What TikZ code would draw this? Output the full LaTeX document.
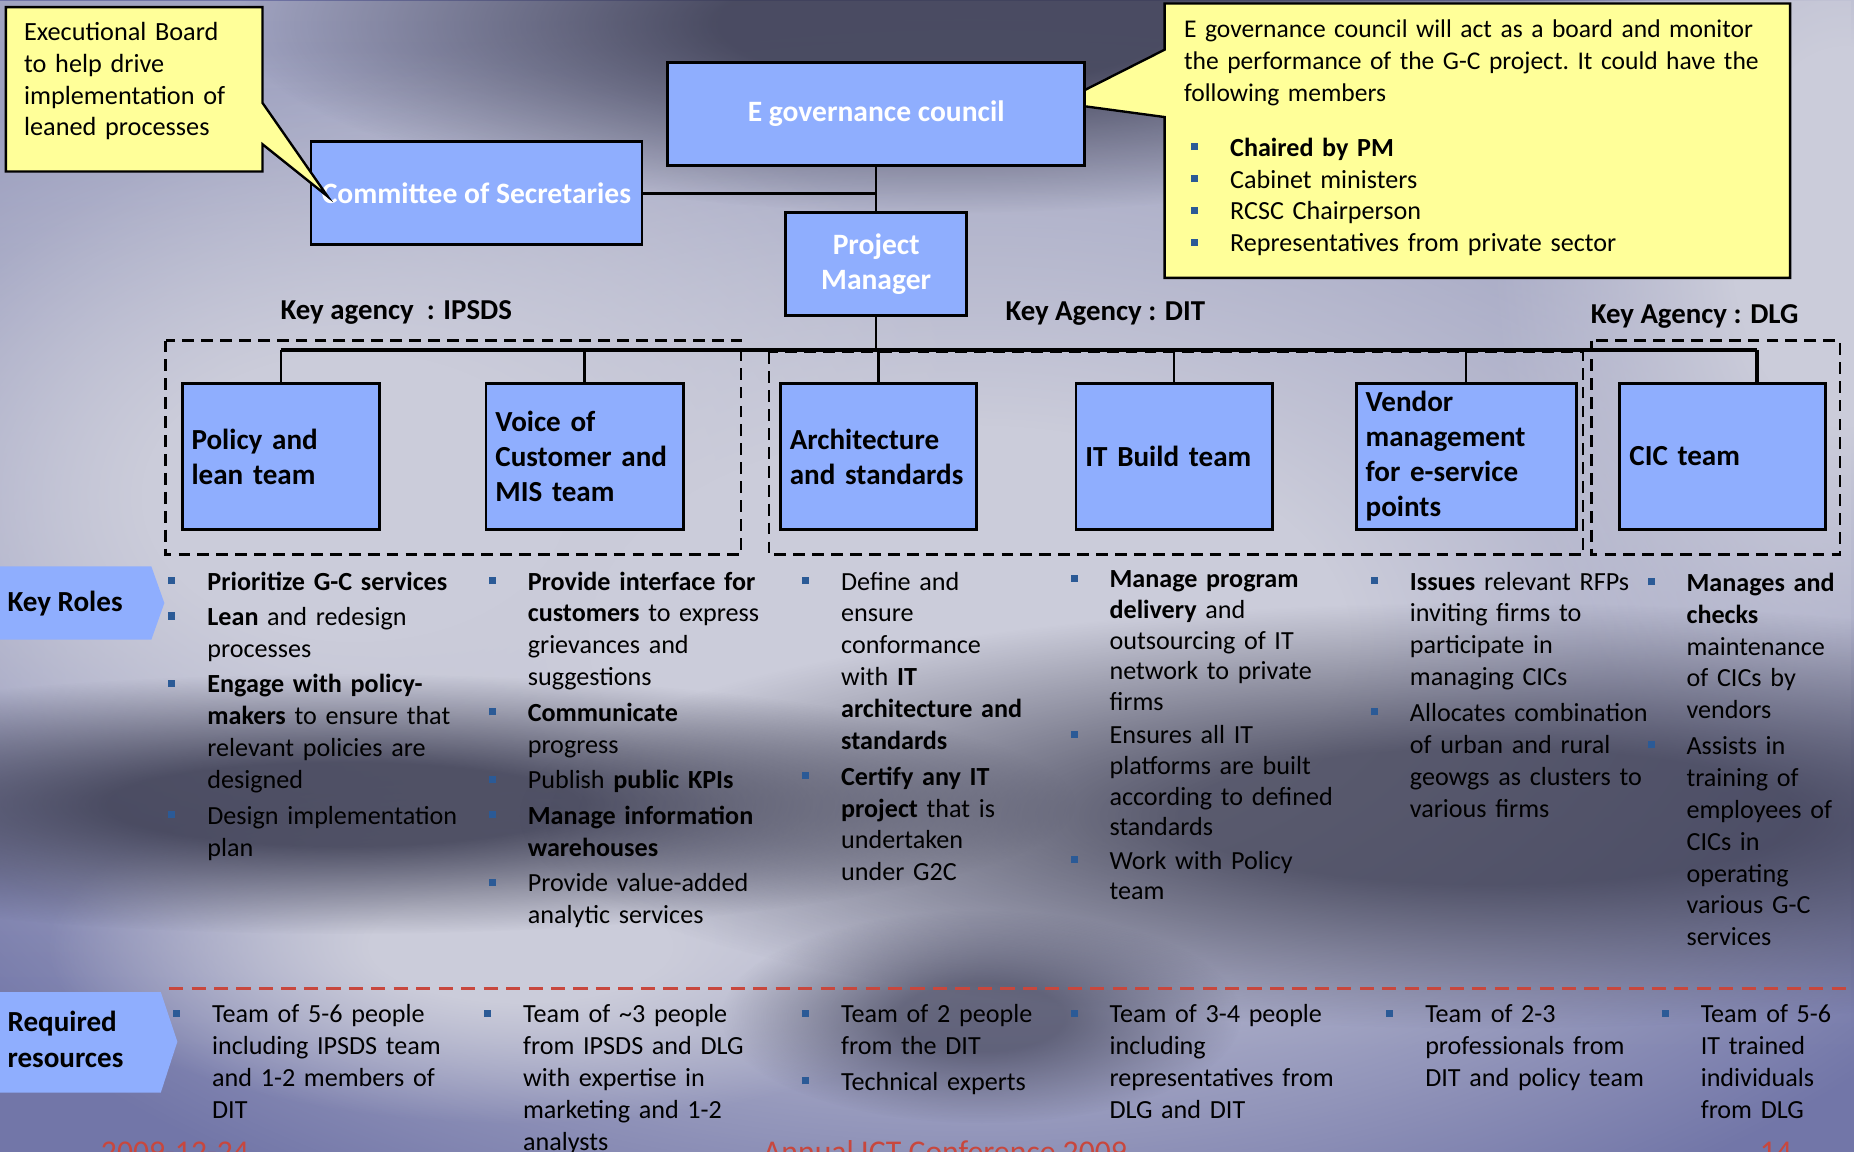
\documentclass[tikz,border=0pt]{standalone}
\usepackage{fontspec}
\setmainfont{Carlito}
\usetikzlibrary{calc,positioning,fadings}

\definecolor{unitblue}{HTML}{8FAEFE}
\definecolor{noteyellow}{HTML}{FFFF99}
\definecolor{bulletblue}{HTML}{2B5A96}
\definecolor{slidered}{HTML}{C8473D}
\definecolor{bgtop}{HTML}{A2A5C2}
\definecolor{bgbot}{HTML}{7276A8}
\definecolor{bglight}{HTML}{CBCCDA}
\definecolor{bgdark}{HTML}{34354A}

\tikzfading[name=fadedown, top color=transparent!0, bottom color=transparent!100]
\pgfdeclareradialshading{softblobshade}{\pgfpointorigin}{color(0bp)=(pgftransparent!0); color(8bp)=(pgftransparent!0); color(25bp)=(pgftransparent!100); color(50bp)=(pgftransparent!100)}
\pgfdeclarefading{softblob}{\pgfuseshading{softblobshade}}

% bullet list used in the role and resource columns
\newenvironment{rolelist}[1][1.5pt]{\raggedright\frenchspacing
  \begin{list}{\raisebox{2.5pt}{\color{bulletblue}\rule{3pt}{3pt}}}{%
    \setlength\leftmargin{16.5pt}\setlength\labelwidth{3pt}\setlength\labelsep{13.5pt}%
    \setlength\itemsep{#1}\setlength\parsep{0pt}\setlength\topsep{0pt}\setlength\partopsep{0pt}}}
  {\end{list}}

\begin{document}
\begin{tikzpicture}[x=0.5pt,y=-0.5pt,
  unit/.style={draw=black,line width=1.2pt,fill=unitblue,inner sep=0pt},
  head/.style={unit,text=white,align=center,minimum height=43.5pt,font=\fontsize{12.5}{15}\selectfont\bfseries},
  team/.style={unit,inner xsep=4pt,minimum height=62pt,align=left,font=\fontsize{12.3}{14.8}\selectfont\bfseries},
  note/.style={draw=black,line width=1pt,fill=noteyellow},
  notetext/.style={anchor=base west,inner sep=0pt,align=left,font=\fontsize{11.1}{13.5}\selectfont\frenchspacing},
  link/.style={line width=1.1pt},
  bus/.style={line width=1.7pt},
  agencyframe/.style={line width=0.9pt,dash pattern=on 5pt off 3pt},
  agency/.style={anchor=base west,inner sep=0pt,font=\fontsize{12.2}{14}\selectfont\bfseries},
  tab/.style={fill=unitblue},
  tablabel/.style={anchor=base west,inner sep=0pt,align=left,font=\fontsize{12.3}{15.5}\selectfont\bfseries},
  roles/.style={anchor=base west,inner sep=0pt,font=\fontsize{11.05}{13.5}\selectfont},
  footer/.style={anchor=base west,inner sep=0pt,text=slidered,font=\fontsize{13.4}{16}\selectfont},
  blob/.style={path fading=softblob}]
\useasboundingbox (0,0) rectangle (1568,974);
\clip (0,0) rectangle (1568,974);

% puzzle background
\fill[bgbot] (0,0) rectangle (1568,974);
\fill[bgtop,path fading=fadedown] (0,0) rectangle (1568,900);
\fill[bglight,blob] (820,540) ellipse (1000 and 560);
\fill[bglight,blob] (300,420) ellipse (560 and 380);
\fill[bglight,blob] (1560,200) ellipse (300 and 500);
\fill[bglight,blob] (440,800) ellipse (400 and 150);
\fill[bgdark,blob,opacity=.8] (800,20) ellipse (600 and 160);
\fill[bgdark,blob,opacity=.8] (290,680) ellipse (620 and 110);
\fill[bgdark,blob,opacity=.75] (1260,690) ellipse (820 and 180);
\fill[bgdark,blob,opacity=.6] (830,860) ellipse (220 and 90);

\draw[note] (985,3) -- (1514,3) -- (1514,235) -- (985,235) -- (985,99) -- (896,87) -- (985,42) -- cycle;

\node[head,minimum width=176.5pt] (egov) at (741,96.5) {E governance council};
\node[head,minimum width=140pt] (cos) at (403,163.5) {Committee of Secretaries};
\node[head,minimum width=76.5pt] (pm) at (741,223.5) {Project\\Manager};

\node[team,text width=75.5pt] (policy) at (237.5,386) {Policy~and\\lean~team};
\node[team,text width=75.5pt] (voice) at (494.5,386) {Voice~of\\Customer~and\\MIS~team};
\node[team,text width=75pt] (arch) at (743,386) {Architecture\\and~standards};
\node[team,text width=75pt] (itb) at (993,386) {IT~Build~team};
\node[team,text width=85pt] (vendor) at (1240,386) {Vendor\\management\\for~e-service\\points};
\node[team,text width=79pt] (cic) at (1457,386) {CIC~team};

\draw[note] (5,6) -- (222,6) -- (222,87) -- (277,166) -- (222,122) -- (222,145) -- (5,145) -- cycle;
\node[notetext,text width=100pt] (board) at (20,34) {Executional Board\\to help drive\\implementation of\\leaned processes};
\node[notetext,text width=255pt,font=\fontsize{10.8}{13.5}\selectfont\frenchspacing] (gcnote) at (1001,32) {E governance council will act as a board and monitor\\the performance of the G-C project. It could have the\\following members};
\node[roles,text width=200pt] (members) at (1007,105) {\begin{rolelist}[0pt]
  \item \textbf{Chaired by PM}
  \item Cabinet ministers
  \item RCSC Chairperson
  \item Representatives from private sector
\end{rolelist}};

% reporting lines
\coordinate (busL) at (237.5,296);
\coordinate (busR) at (1486,296);
\draw[link] (egov.south) -- (pm.north);
\draw[link] (cos.east) -- (cos.east -| egov.south);
\draw[link] (pm.south) -- (pm.south |- busL);
\draw[bus] (busL) -- (busR);
\foreach \t in {policy,voice,arch,itb,vendor}
  \draw[link] (\t.north |- busL) -- (\t.north);
\draw[bus] (busR) -- (busR |- cic.north);

\draw[agencyframe] (140,288) rectangle (627,469);
\draw[agencyframe] (650,298) rectangle (1339,469);
\draw[agencyframe] (1346,288) rectangle (1556,469);
\node[agency] (ipsds) at (237,270) {Key agency~~: IPSDS};
\node[agency] (dit) at (850,271) {Key Agency : DIT};
\node[agency] (dlg) at (1345,274) {Key Agency : DLG};

\fill[tab] (0,479) -- (128,479) -- (139,510) -- (128,541) -- (0,541) -- cycle;
\node[tablabel] (keyroles) at (6,517) {Key Roles};
\fill[tab] (0,839) -- (136,839) -- (150,881) -- (136,924) -- (0,924) -- cycle;
\node[tablabel,text width=70pt] (reqres) at (6,872) {Required\\resources};
\draw[slidered,line width=1.2pt,dash pattern=on 6pt off 3.5pt] (143,836) -- (1568,836);

% key roles
\node[roles,text width=132pt] (rolepolicy) at (142,472) {\begin{rolelist}
  \item \textbf{Prioritize G-C services}
  \item \textbf{Lean} and redesign\\processes
  \item \textbf{Engage with policy-}\\\textbf{makers} to ensure that\\relevant policies are\\designed
  \item Design implementation\\plan
\end{rolelist}};
\node[roles,text width=130pt] (rolevoice) at (413,472) {\begin{rolelist}
  \item \textbf{Provide interface for}\\\textbf{customers} to express\\grievances and\\suggestions
  \item \textbf{Communicate}\\progress
  \item Publish \textbf{public KPIs}
  \item \textbf{Manage information}\\\textbf{warehouses}
  \item Provide value-added\\analytic services
\end{rolelist}};
\node[roles,text width=112pt] (rolearch) at (678,472) {\begin{rolelist}
  \item Define and\\ensure\\conformance\\with \textbf{IT}\\\textbf{architecture and}\\\textbf{standards}
  \item \textbf{Certify any IT}\\\textbf{project} that is\\undertaken\\under G2C
\end{rolelist}};
\node[roles,text width=125pt,font=\fontsize{11.05}{13}\selectfont] (roleitb) at (905,471) {\begin{rolelist}[1pt]
  \item \textbf{Manage program}\\\textbf{delivery} and\\outsourcing of IT\\network to private\\firms
  \item Ensures all IT\\platforms are built\\according to defined\\standards
  \item Work with Policy\\team
\end{rolelist}};
\node[roles,text width=120pt] (rolevendor) at (1159,472) {\begin{rolelist}
  \item \textbf{Issues} relevant RFPs\\inviting firms to\\participate in\\managing CICs
  \item Allocates combination\\of urban and rural\\geowgs as clusters to\\various firms
\end{rolelist}};
\node[roles,text width=86pt] (rolecic) at (1393,473) {\begin{rolelist}
  \item \textbf{Manages and}\\\textbf{checks}\\maintenance\\of CICs by\\vendors
  \item Assists in\\training of\\employees of\\CICs in\\operating\\various G-C\\services
\end{rolelist}};

% required resources
\node[roles,text width=130pt] (respolicy) at (146,838) {\begin{rolelist}
  \item Team of 5-6 people\\including IPSDS team\\and 1-2 members of\\DIT
\end{rolelist}};
\node[roles,text width=132pt] (resvoice) at (409,838) {\begin{rolelist}
  \item Team of \textasciitilde3 people\\from IPSDS and DLG\\with expertise in\\marketing and 1-2\\analysts
\end{rolelist}};
\node[roles,text width=112pt] (resarch) at (678,838) {\begin{rolelist}
  \item Team of 2 people\\from the DIT
  \item Technical experts
\end{rolelist}};
\node[roles,text width=130pt] (resitb) at (905,838) {\begin{rolelist}
  \item Team of 3-4 people\\including\\representatives from\\DLG and DIT
\end{rolelist}};
\node[roles,text width=115pt] (resvendor) at (1172,838) {\begin{rolelist}
  \item Team of 2-3\\professionals from\\DIT and policy team
\end{rolelist}};
\node[roles,text width=80pt] (rescic) at (1405,838) {\begin{rolelist}
  \item Team of 5-6\\IT trained\\individuals\\from DLG
\end{rolelist}};

\node[footer] (date) at (85,983) {2009-12-24};
\node[footer] (conf) at (645,983) {Annual ICT Conference 2009};
\node[footer] (page) at (1488,983) {14};
\end{tikzpicture}
\end{document}
